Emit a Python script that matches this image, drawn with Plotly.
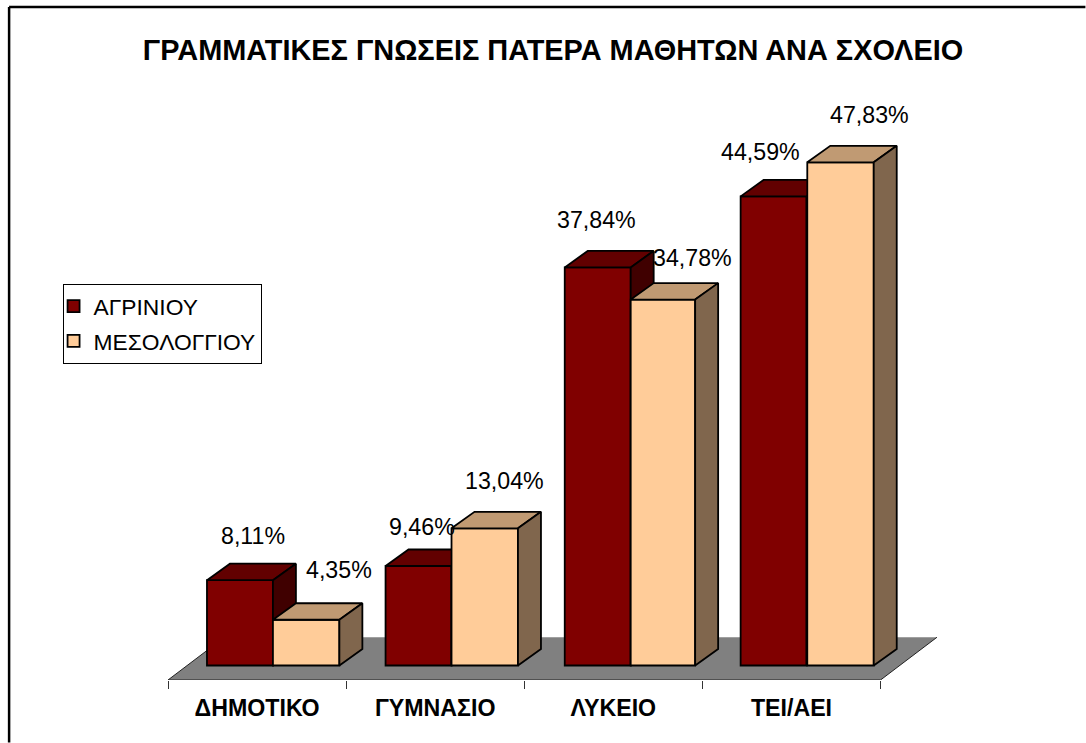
import plotly.graph_objects as go

categories = ["ΔΗΜΟΤΙΚΟ", "ΓΥΜΝΑΣΙΟ", "ΛΥΚΕΙΟ", "ΤΕΙ/ΑΕΙ"]
series_a_name = "ΑΓΡΙΝΙΟΥ"
series_b_name = "ΜΕΣΟΛΟΓΓΙΟΥ"
series_a = [8.11, 9.46, 37.84, 44.59]
series_b = [4.35, 13.04, 34.78, 47.83]
title_text = "ΓΡΑΜΜΑΤΙΚΕΣ ΓΝΩΣΕΙΣ ΠΑΤΕΡΑ ΜΑΘΗΤΩΝ ΑΝΑ ΣΧΟΛΕΙΟ"

# ---- layout / styling constants (pixels of the 1086x743 page)
W, H = 1086, 743
PL, PR, PT, PB = 168.0, 937.5, 100.0, 680.5     # plot area
PX_X = 178.25                                    # px per category
PX_Y = 10.53                                     # px per percent
ZERO_PX = 666.0                                  # px of value 0 at bar front
x_of = lambda px: 0.5 + (px - PL) / PX_X
XMIN, XMAX = x_of(PL), x_of(PR)
YMIN, YMAX = (ZERO_PX - PB) / PX_Y, (ZERO_PX - PT) / PX_Y
DX, DY = 23 / PX_X, 16.5 / PX_Y                  # bar depth in data units
BAR_W = 66 / PX_X
A_OFF = [(p - PL) / PX_X + 0.5 - (i + 1) for i, p in enumerate([207, 385.7, 565, 741])]
B_OFF = [(p - PL) / PX_X + 0.5 - (i + 1) for i, p in enumerate([273, 451.7, 631, 807.7])]
B_W = [66.5 / PX_X, 66.5 / PX_X, 64.5 / PX_X, 66.5 / PX_X]
FONT = "Liberation Sans, Arial, sans-serif"
OUTLINE = dict(color="black", width=1.8)

# label shift from bar-top centre, px
A_SHIFT = [(13, 44), (3, 39), (-1, 47), (-13, 44)]
B_SHIFT = [(33, 50), (20, 47), (29, 42), (29, 47)]

cats = [1, 2, 3, 4]
fig = go.Figure()


def add_faces(vals, offs, widths, top_col, side_col, xa, ya):
    for c, v, o, w in zip(cats, vals, offs, widths):
        x0, x1 = c + o, c + o + w
        fig.add_trace(go.Scatter(
            x=[x0, x0 + DX, x1 + DX, x1, x0], y=[v, v + DY, v + DY, v, v],
            mode="lines", fill="toself", fillcolor=top_col, line=OUTLINE,
            showlegend=False, hoverinfo="skip", xaxis=xa, yaxis=ya, cliponaxis=False))
        fig.add_trace(go.Scatter(
            x=[x1, x1 + DX, x1 + DX, x1, x1], y=[v, v + DY, DY, 0, v],
            mode="lines", fill="toself", fillcolor=side_col, line=OUTLINE,
            showlegend=False, hoverinfo="skip", xaxis=xa, yaxis=ya, cliponaxis=False))


# floor front edge (the fill and slanted edges are below-traces shapes)
floor_dx, floor_dy = XMAX - 4.5, (PB - 637.7) / PX_Y
fig.add_trace(go.Scatter(
    x=[0.5, 4.5], y=[YMIN, YMIN],
    mode="lines", line=dict(color="#222222", width=1), showlegend=False,
    hoverinfo="skip", cliponaxis=False))

# series A on the primary axes
fig.add_trace(go.Bar(
    x=cats, y=series_a, name=series_a_name, offset=A_OFF, width=BAR_W,
    marker=dict(color="#800000", line=OUTLINE), hoverinfo="skip",
    legendgroup="a"))
add_faces(series_a, A_OFF, [BAR_W] * 4, "#620000", "#400000", "x", "y")

# series B on an overlaid pair of axes so it is painted over A's side faces
fig.add_trace(go.Bar(
    x=cats, y=series_b, name=series_b_name, offset=B_OFF, width=B_W,
    marker=dict(color="#FFCC99", line=OUTLINE), hoverinfo="skip",
    xaxis="x2", yaxis="y2", legendgroup="b"))
add_faces(series_b, B_OFF, B_W, "#C09A73", "#80664D", "x2", "y2")

annotations = []
for vals, offs, shifts in ((series_a, A_OFF, A_SHIFT), (series_b, B_OFF, B_SHIFT)):
    for c, v, o, (sx, sy) in zip(cats, vals, offs, shifts):
        annotations.append(dict(
            x=c + o + BAR_W / 2, y=v, xref="x", yref="y", text=f"{v:.2f}%".replace(".", ","),
            showarrow=False, xshift=sx, yshift=sy, xanchor="center", yanchor="middle",
            font=dict(family=FONT, size=23.2, color="black")))

fig.update_layout(
    width=W, height=H, autosize=False, paper_bgcolor="white", plot_bgcolor="rgba(0,0,0,0)",
    margin=dict(l=PL, r=W - PR, t=PT, b=H - PB, pad=0),
    title=dict(text=title_text, xref="container", yref="container", x=553 / W, y=1 - 50 / H,
               xanchor="center", yanchor="middle",
               font=dict(family=FONT, size=28.9, color="black", weight="bold")),
    barmode="overlay", annotations=annotations,
    xaxis=dict(range=[XMIN, XMAX], tickmode="array", tickvals=cats, ticktext=categories,
               ticks="", showgrid=False, zeroline=False, showline=False,
               tickangle=0, ticklabelstandoff=12,
               tickfont=dict(family=FONT, size=23.2, color="black", weight="bold"),
               minor=dict(tickmode="array", tickvals=[0.5, 1.5, 2.5, 3.5, 4.5],
                          ticks="outside", ticklen=8, tickcolor="#333333", tickwidth=1, showgrid=False)),
    yaxis=dict(range=[YMIN, YMAX], visible=False),
    xaxis2=dict(overlaying="x", matches="x", visible=False),
    yaxis2=dict(overlaying="y", matches="y", visible=False),
    legend=dict(x=(62.5 - PL) / (PR - PL), y=(PB - 284) / (PB - PT), xanchor="left", yanchor="top",
                bgcolor="white", bordercolor="black", borderwidth=1,
                font=dict(family=FONT, size=22.8, color="black"), indentation=-10,
                traceorder="grouped", tracegroupgap=2),
    shapes=[
        dict(type="path", xref="x", yref="y", layer="below", fillcolor="#808080", line=dict(width=0),
             path=f"M0.5,{YMIN} L4.5,{YMIN} L{4.5 + floor_dx},{YMIN + floor_dy} L{0.5 + floor_dx},{YMIN + floor_dy} Z"),
        dict(type="line", xref="x", yref="y", layer="below", line=dict(color="#222222", width=1),
             x0=0.5, y0=YMIN, x1=0.5 + floor_dx, y1=YMIN + floor_dy),
        dict(type="line", xref="x", yref="y", layer="below", line=dict(color="#222222", width=1),
             x0=4.5, y0=YMIN, x1=4.5 + floor_dx, y1=YMIN + floor_dy),
        dict(type="line", xref="paper", yref="paper", layer="above", line=dict(color="black", width=2.5),
             x0=(9 - PL) / (PR - PL), x1=(9 - PL) / (PR - PL), y0=(PB - 7) / (PB - PT), y1=(PB - H) / (PB - PT)),
        dict(type="line", xref="paper", yref="paper", layer="above", line=dict(color="black", width=2.5),
             x0=(9 - PL) / (PR - PL), x1=(W - PL) / (PR - PL), y0=(PB - 7) / (PB - PT), y1=(PB - 7) / (PB - PT)),
    ],
)

fig.write_html("out.html", post_script="document.body.style.margin='0';",
               config={"displayModeBar": False})
